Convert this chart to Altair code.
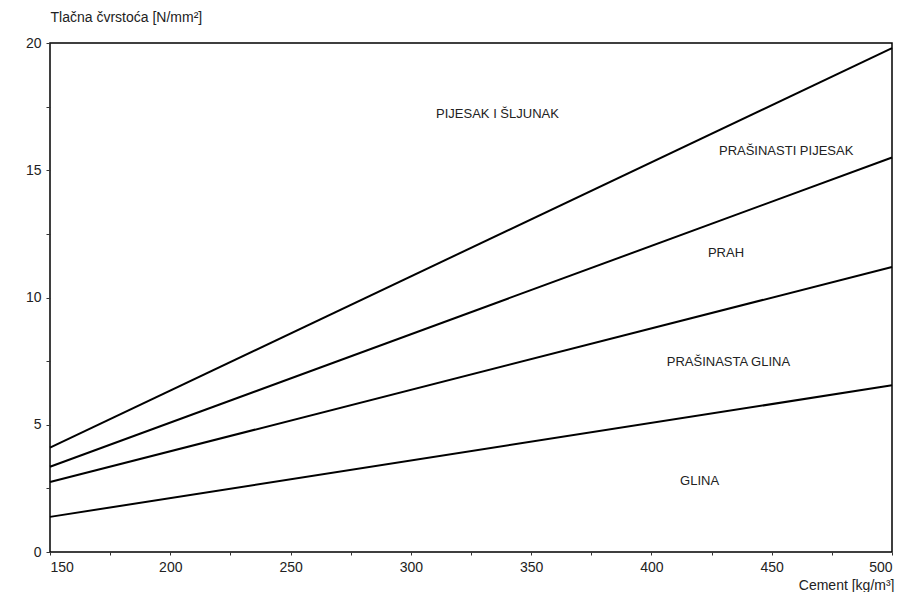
import altair as alt
import pandas as pd

# Line endpoints
cement = [150, 500]
line_ids = ["A", "B", "C", "D"]
line_vals = {
    "A": [4.1, 19.8],
    "B": [3.35, 15.5],
    "C": [2.75, 11.2],
    "D": [1.38, 6.55],
}

label_text = ["PIJESAK I ŠLJUNAK", "PRAŠINASTI PIJESAK", "PRAH", "PRAŠINASTA GLINA", "GLINA"]
label_x = [336, 456, 431, 432, 420]
label_y = [17.2, 15.75, 11.75, 7.45, 2.8]

rows = []
for lid in line_ids:
    for c, v in zip(cement, line_vals[lid]):
        rows.append({"line": lid, "cement": c, "strength": v})
df = pd.DataFrame(rows)
lab = pd.DataFrame({"text": label_text, "cement": label_x, "strength": label_y})

FONT = "Liberation Sans"

x_enc = alt.X(
    "cement:Q",
    scale=alt.Scale(domain=[150, 500], nice=False, zero=False),
    axis=alt.Axis(
        values=list(range(150, 501, 25)),
        labelExpr="datum.value % 50 == 0 ? datum.label : ''",
        title="Cement [kg/m³]",
        titleAnchor="end",
        titleAlign="right",
        titleBaseline="top",
        titleX=844,
        titleY=26,
        titleFontWeight="normal",
        titleFontSize=14,
        titleFont=FONT,
        titleColor="#222",
        grid=False,
        domain=False,
        tickSize=3,
        tickColor="#333",
        labelFont=FONT,
        labelFontSize=14,
        labelColor="#222",
        labelPadding=5,
    ),
)
y_enc = alt.Y(
    "strength:Q",
    scale=alt.Scale(domain=[0, 20], nice=False),
    axis=alt.Axis(
        values=[0, 2.5, 5, 7.5, 10, 12.5, 15, 17.5, 20],
        labelExpr="datum.value % 5 == 0 ? datum.label : ''",
        title="Tlačna čvrstoća [N/mm²]",
        titleAngle=0,
        titleAlign="left",
        titleBaseline="bottom",
        titleX=0,
        titleY=-19,
        titleFontWeight="normal",
        titleFontSize=14,
        titleFont=FONT,
        titleColor="#222",
        grid=False,
        domain=False,
        tickSize=4,
        tickColor="#333",
        labelFont=FONT,
        labelFontSize=14,
        labelColor="#222",
        labelPadding=5,
    ),
)

lines = alt.Chart(df).mark_line(color="black", strokeWidth=2).encode(
    x=x_enc, y=y_enc, detail="line:N"
)
texts = alt.Chart(lab).mark_text(
    font=FONT, fontSize=13, color="#222", align="center", baseline="middle"
).encode(x="cement:Q", y="strength:Q", text="text:N")

chart = (
    alt.layer(lines, texts)
    .properties(
        width=842,
        height=509,
        autosize=alt.AutoSizeParams(type="none"),
        padding={"left": 42, "top": 35, "right": 7, "bottom": 40},
        background="white",
    )
    .configure_view(stroke="black", strokeWidth=1.5)
)

chart.save("out.html", embed_options={"renderer": "svg", "actions": False})
